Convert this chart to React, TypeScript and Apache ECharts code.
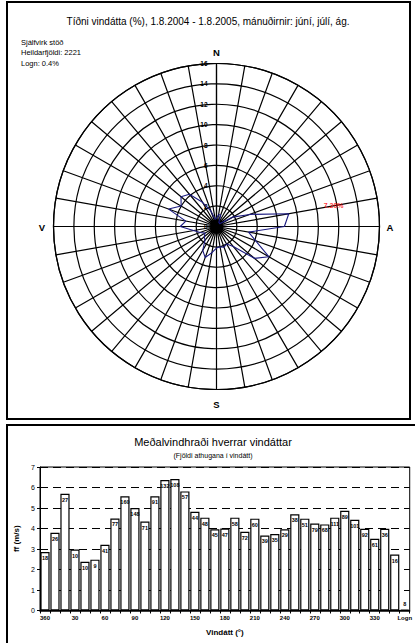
import React, { useEffect, useRef } from "react";
import * as echarts from "echarts";

// Wind directions (degrees) and category labels
const directions = [0, 10, 20, 30, 40, 50, 60, 70, 80, 90, 100, 110, 120, 130, 140, 150, 160, 170, 180, 190, 200, 210, 220, 230, 240, 250, 260, 270, 280, 290, 300, 310, 320, 330, 340, 350];
const dirLabels = ["360", "10", "20", "30", "40", "50", "60", "70", "80", "90", "100", "110", "120", "130", "140", "150", "160", "170", "180", "190", "200", "210", "220", "230", "240", "250", "260", "270", "280", "290", "300", "310", "320", "330", "340", "350", "Logn"];
// Number of observations per direction
const counts = [18, 26, 27, 10, 10, 9, 41, 77, 160, 148, 71, 91, 132, 108, 57, 44, 48, 45, 47, 58, 72, 60, 39, 35, 29, 38, 51, 79, 68, 111, 89, 101, 92, 61, 36, 16];
const calmCount = 8;
const totalObs = 2221;
// Mean wind speed per direction (m/s)
const meanSpeed = [2.85, 3.79, 5.69, 2.97, 2.38, 2.48, 3.21, 4.49, 5.57, 5.0, 4.34, 5.57, 6.36, 6.41, 5.81, 4.82, 4.53, 3.96, 4.0, 4.53, 3.84, 4.48, 3.66, 3.73, 3.96, 4.69, 4.48, 4.24, 4.2, 4.53, 4.86, 4.43, 3.99, 3.5, 3.99, 2.73];
const calmSpeed = 0.05;

const FONT = '"Liberation Sans", Arial, sans-serif';

export default function App() {
  const ref = useRef<HTMLDivElement>(null);
  useEffect(() => {
    if (!ref.current) return;
    const chart = echarts.init(ref.current, null, { renderer: "svg" });
    const pct = counts.map((c) => (c / totalObs) * 100);
    let maxIdx = 0;
    pct.forEach((p, i) => {
      if (p > pct[maxIdx]) maxIdx = i;
    });
    const roseData = directions.map((d, i) => [pct[i], d]);
    roseData.push([pct[0], 360]);
    const allCounts = [...counts, calmCount];
    const barData: any[] = meanSpeed.map((v) => v);
    barData.push({ value: calmSpeed, label: { position: "top", distance: 2 } });
    const calmPct = ((calmCount / totalObs) * 100).toFixed(1);

    const txt = (text: string, x: number, y: number, size: number, opts: any = {}) => ({
      type: "text",
      x,
      y,
      z: 100,
      style: {
        text,
        font: `${opts.bold ? "bold " : ""}${size}px ${FONT}`,
        fill: opts.color || "#000",
        textAlign: opts.align || "center",
        textVerticalAlign: "middle",
      },
    });

    const option: any = {
      animation: false,
      backgroundColor: "#fff",
      textStyle: { fontFamily: FONT },
      graphic: [
        { type: "rect", shape: { x: 7, y: 2, width: 403, height: 417 }, style: { fill: "none", stroke: "#000", lineWidth: 2 }, z: 100 },
        { type: "rect", shape: { x: 7, y: 425, width: 420, height: 240 }, style: { fill: "none", stroke: "#000", lineWidth: 2 }, z: 100 },
        txt("Tíðni vindátta (%), 1.8.2004 - 1.8.2005, mánuðirnir: júní, júlí, ág.", 208, 21, 10),
        txt("Sjálfvirk stöð", 21, 42, 7.5, { align: "left" }),
        txt(`Heildarfjöldi: ${totalObs}`, 21, 52.5, 7.5, { align: "left" }),
        txt(`Logn: ${calmPct}%`, 21, 63, 7.5, { align: "left" }),
        txt("N", 216.5, 52, 9.5, { bold: true }),
        txt("S", 216.5, 404, 9.5, { bold: true }),
        txt("V", 42, 227, 9.5, { bold: true }),
        txt("A", 390, 227, 9.5, { bold: true }),
        txt("Meðalvindhraði hverrar vindáttar", 213, 442, 11),
        txt("(Fjöldi athugana í vindátt)", 213, 455, 7),
      ],
      polar: { center: [216.5, 226.5], radius: 163 },
      angleAxis: {
        type: "value",
        min: 0,
        max: 360,
        interval: 10,
        startAngle: 90,
        clockwise: true,
        axisLine: { show: true, lineStyle: { color: "#000", width: 1.2 } },
        axisTick: { show: false },
        axisLabel: { show: false },
        splitLine: { show: true, lineStyle: { color: "#000", width: 1.2 } },
      },
      radiusAxis: {
        min: 0,
        max: 16,
        interval: 2,
        axisLine: { show: true, lineStyle: { color: "#000", width: 1.2 } },
        axisTick: { show: false },
        axisLabel: { fontSize: 6.5, fontWeight: "bold", color: "#000", margin: 9, align: "right" },
        splitLine: { show: true, lineStyle: { color: "#000", width: 1.2 } },
      },
      grid: { left: 40, right: 2, top: 467, bottom: 32.5, show: true, borderColor: "#000", borderWidth: 1, backgroundColor: "transparent" },
      xAxis: {
        type: "category",
        data: dirLabels,
        axisLine: { show: true, lineStyle: { color: "#000", width: 1.5 } },
        axisTick: { show: true, interval: 0, length: 3, lineStyle: { color: "#000" } },
        axisLabel: {
          interval: (i: number) => i % 3 === 0 || i === dirLabels.length - 1,
          fontSize: 6,
          fontWeight: "bold",
          color: "#000",
          margin: 4,
        },
        name: "Vindátt (°)",
        nameLocation: "middle",
        nameGap: 18,
        nameTextStyle: { fontSize: 8, fontWeight: "bold", color: "#000" },
      },
      yAxis: {
        type: "value",
        min: 0,
        max: 7,
        interval: 1,
        axisLine: { show: true, lineStyle: { color: "#000", width: 1 } },
        axisTick: { show: true, length: 3, lineStyle: { color: "#000" } },
        axisLabel: { fontSize: 7, color: "#000", margin: 5 },
        splitLine: { show: true, lineStyle: { color: "#000", width: 1, type: [8, 5] } },
        name: "ff (m/s)",
        nameLocation: "middle",
        nameGap: 18,
        nameRotate: 90,
        nameTextStyle: { fontSize: 8, fontWeight: "bold", color: "#000" },
      },
      series: [
        {
          type: "line",
          coordinateSystem: "polar",
          data: roseData,
          symbol: "none",
          lineStyle: { color: "#1a1a80", width: 1.1 },
          z: 10,
        },
        {
          type: "scatter",
          coordinateSystem: "polar",
          data: [[pct[maxIdx] * 1.62, directions[maxIdx]]],
          symbolSize: 0,
          label: {
            show: true,
            position: "inside",
            formatter: () => `${pct[maxIdx].toFixed(2)}%`,
            color: "#ff0000",
            fontSize: 7,
            fontWeight: "bold",
          },
          z: 11,
        },
        {
          type: "bar",
          xAxisIndex: 0,
          yAxisIndex: 0,
          data: barData,
          barCategoryGap: "8%",
          itemStyle: { color: "#fff", borderColor: "#000", borderWidth: 1.2 },
          label: {
            show: true,
            position: "insideTop",
            distance: 3,
            formatter: (p: any) => `${allCounts[p.dataIndex]}`,
            fontSize: 5.5,
            fontWeight: "bold",
            color: "#000",
          },
        },
      ],
    };
    chart.setOption(option);
    return () => chart.dispose();
  }, []);
  return <div ref={ref} style={{ position: "fixed", left: 0, top: 0, width: 415, height: 643 }} />;
}
